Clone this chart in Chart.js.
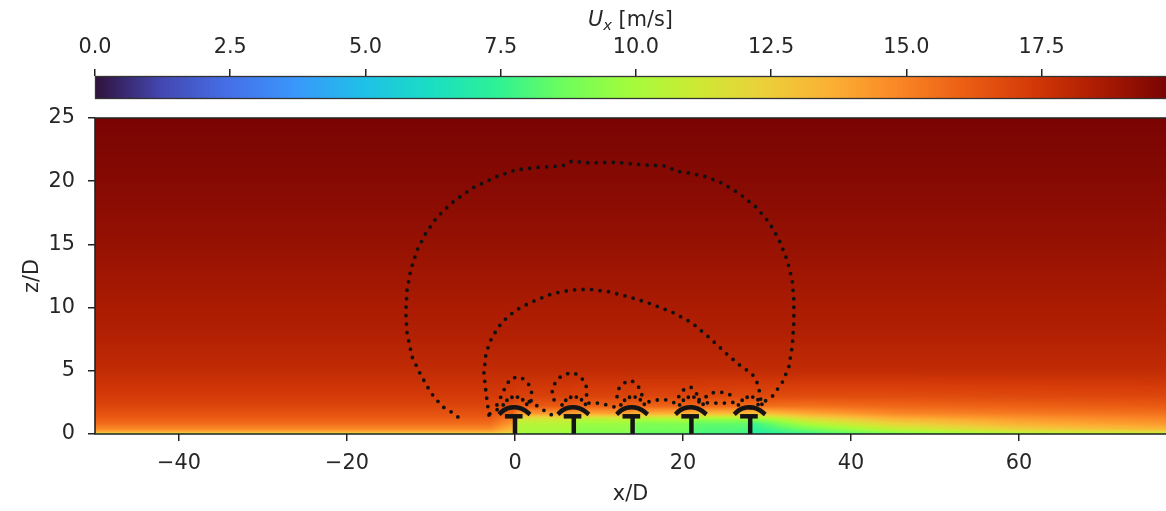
<!DOCTYPE html>
<html>
<head>
<meta charset="utf-8">
<script src="https://cdn.jsdelivr.net/npm/chart.js@4.4.1/dist/chart.umd.min.js"></script>
<style>
  html, body { margin: 0; padding: 0; background: #fff; }
  #wrap { position: relative; width: 1166px; height: 511px; }
  canvas { position: absolute; left: 0; top: 0; }
</style>
</head>
<body>
<div id="wrap">
  <canvas id="fieldChart" width="1166" height="511"></canvas>
  <canvas id="barChart" width="1166" height="100"></canvas>
</div>
<script>
// tick labels
const xTicks = [-40, -20, 0, 20, 40, 60];
const zTicks = [0, 5, 10, 15, 20, 25];
const cbTicks = [0, 2.5, 5, 7.5, 10, 12.5, 15, 17.5];
const uMax = 19.8;

// turbines (x/D) and the little glyph drawn at each one
const turbineX = [0, 7, 14, 21, 28];
const hubZ = 1.4;
const rotorDx = [-1.9, -1.3, -0.5, 0.3, 1.1, 1.8];
const rotorZ = [1.55, 1.9, 2.1, 2.1, 1.9, 1.55];
// dotted tuft just above each rotor
const tuftDx = [-1.4, -0.8, 0.0, 0.8, 1.4];
const tuftZ = [2.3, 2.8, 3.0, 2.8, 2.35];

// U_x field: columns at xStations, rows at zLevels
const zLevels = [0, 0.15, 0.4, 0.8, 1.2, 1.6, 2.2, 3, 5, 8, 12, 16, 20, 25];
const xStations = [-50, -3, -0.3, 0.5, 6.5, 7.5, 13.5, 14.5, 20.5, 21.5, 27.5, 28.5, 35, 45, 60, 77.5];
// z = 0 .. 3 (first 8 levels), one row per station
const nearGroundU = [
  [10.5, 13.6, 14.8, 15.6, 16.1, 16.5, 16.9, 17.3],
  [10.5, 13.6, 14.8, 15.6, 16.1, 16.5, 16.9, 17.3],
  [10.0, 12.5, 13.3, 14.2, 15.0, 15.8, 16.6, 17.2],
  [9.0, 10.0, 10.2, 10.4, 11.4, 14.2, 16.2, 17.1],
  [9.0, 9.8, 10.2, 10.4, 11.4, 14.2, 16.2, 17.1],
  [8.5, 9.2, 9.4, 9.6, 10.6, 13.7, 16.0, 17.0],
  [8.5, 9.2, 9.5, 9.7, 10.8, 13.9, 16.0, 17.0],
  [8.0, 8.6, 8.8, 9.0, 10.2, 13.4, 15.9, 16.9],
  [8.0, 8.6, 8.9, 9.1, 10.4, 13.5, 15.9, 16.9],
  [7.5, 8.0, 8.2, 8.4, 9.7, 13.1, 15.8, 16.9],
  [7.5, 7.9, 8.1, 8.4, 9.7, 13.1, 15.7, 16.8],
  [6.8, 7.2, 7.4, 7.7, 9.3, 12.8, 15.6, 16.8],
  [7.3, 8.1, 8.8, 10.2, 11.8, 13.8, 15.5, 16.7],
  [8.6, 9.6, 10.8, 12.2, 13.5, 14.8, 15.8, 16.7],
  [9.8, 10.9, 12.5, 13.6, 14.3, 15.2, 16.0, 16.8],
  [10.5, 11.8, 13.4, 14.3, 14.9, 15.5, 16.2, 16.9]
];
// z = 5 .. 25, same everywhere
const upperU = [17.9, 18.4, 18.8, 19.2, 19.5, 19.8];

// dotted curves, [x/D, z/D]
const outerLoop = [[-6.8,1.35],[-7.6,1.75],[-8.7,2.2],[-10.0,3.25],[-11.2,4.65],[-12.25,6.1],[-12.85,8.0],[-13.0,9.6],[-12.85,11.4],[-12.4,13.0],[-11.65,14.55],[-10.6,15.9],[-9.3,17.15],[-7.5,18.3],[-5.1,19.45],[-2.25,20.35],[0.1,20.9],[2.85,21.1],[5.6,21.2],[6.8,21.6],[8.8,21.45],[12.0,21.5],[15.1,21.3],[18.0,21.2],[19.2,20.8],[20.7,20.65],[22.75,20.35],[24.65,19.85],[26.65,19.05],[28.7,17.95],[30.25,16.75],[31.45,15.35],[32.4,13.75],[33.0,12.2],[33.2,10.6],[33.2,8.8],[33.0,6.9],[32.6,5.3],[31.8,4.05],[30.6,2.95],[29.4,2.45],[27.9,2.05]];
const innerLoop = [[-3.1,1.5],[-3.45,3.25],[-3.7,4.85],[-3.45,6.4],[-2.75,7.65],[-1.55,8.85],[0.1,9.8],[2.0,10.45],[4.4,11.1],[6.8,11.4],[8.8,11.45],[11.2,11.25],[13.55,10.85],[15.95,10.35],[18.7,9.65],[21.05,8.8],[23.1,7.65],[25.1,6.4],[27.0,5.3],[28.2,4.8],[28.8,4.1],[29.15,3.25],[29.3,2.5]];
const smallLoops = [
  [[-2.15,2.3],[-1.45,3.25],[-1.05,3.9],[-0.35,4.45],[0.7,4.5],[1.55,4.05],[2.0,3.25],[1.9,2.5]],
  [[4.65,2.7],[4.4,3.25],[4.65,3.9],[5.25,4.45],[6.05,4.75],[7.0,4.85],[7.85,4.5],[8.45,3.95],[8.55,3.25],[8.45,2.7]],
  [[12.15,2.95],[12.4,3.65],[13.0,4.05],[13.8,4.25],[14.5,3.95],[15.1,3.3],[15.1,2.75]],
  [[19.5,2.95],[19.75,3.3],[20.35,3.65],[20.95,3.7],[21.55,3.3],[21.8,2.85]],
  [[22.75,2.95],[23.35,3.25],[24.05,3.3],[24.9,3.3],[25.6,3.1],[25.85,2.7]]
];
const lowerWaves = [
  [[-3.0,1.6],[-2.3,1.9],[-1.6,2.0]],
  [[1.7,2.55],[2.85,2.15],[3.7,1.75],[4.4,1.5]],
  [[8.8,2.45],[10.0,2.45],[10.95,2.3],[11.8,2.15]],
  [[15.95,2.55],[17.0,2.7],[18.1,2.7],[19.05,2.45]],
  [[21.9,2.55],[23.1,2.45],[24.3,2.45],[25.5,2.45],[26.45,2.55]]
];

// turbo colour stops, evenly spaced over 0..uMax
const turboStops = [
  [48,18,59],[68,72,178],[70,112,232],[58,152,252],[32,192,232],[26,222,196],[46,242,150],[110,254,92],
  [164,252,60],[206,234,52],[236,208,58],[252,176,52],[250,135,38],[236,94,20],[212,58,8],[172,28,2],[122,4,3]
];

function turbo(u) {
  let t = Math.max(0, Math.min(1, u / uMax));
  const n = turboStops.length - 1;
  const i = Math.min(n - 1, Math.floor(t * n));
  const w = t * n - i;
  const a = turboStops[i], b = turboStops[i + 1];
  return [a[0] + (b[0] - a[0]) * w, a[1] + (b[1] - a[1]) * w, a[2] + (b[2] - a[2]) * w];
}

function bracket(arr, v) {
  let i = 0;
  while (i < arr.length - 2 && v > arr[i + 1]) i++;
  const t = Math.max(0, Math.min(1, (v - arr[i]) / (arr[i + 1] - arr[i])));
  return [i, t];
}

const FONT = 'DejaVu Sans';
const TXT = '#262626';
Chart.defaults.font.family = FONT;
Chart.defaults.font.size = 20.8;
Chart.defaults.color = TXT;

const fieldPlugin = {
  id: 'field',
  beforeDatasetsDraw(chart) {
    const {ctx, chartArea: a, scales: {x, y}} = chart;
    const w = Math.round(a.right - a.left), h = Math.round(a.bottom - a.top);
    const off = document.createElement('canvas');
    off.width = w; off.height = h;
    const octx = off.getContext('2d');
    const img = octx.createImageData(w, h);
    const cols = nearGroundU.map(c => c.concat(upperU));
    const rows = [];
    for (let py = 0; py < h; py++) rows.push(bracket(zLevels, y.getValueForPixel(a.top + py + 0.5)));
    for (let px = 0; px < w; px++) {
      const [i, tx] = bracket(xStations, x.getValueForPixel(a.left + px + 0.5));
      const c0 = cols[i], c1 = cols[i + 1];
      for (let py = 0; py < h; py++) {
        const [j, tz] = rows[py];
        const u0 = c0[j] + (c0[j + 1] - c0[j]) * tz;
        const u1 = c1[j] + (c1[j + 1] - c1[j]) * tz;
        const rgb = turbo(u0 + (u1 - u0) * tx);
        const k = (py * w + px) * 4;
        img.data[k] = rgb[0]; img.data[k + 1] = rgb[1]; img.data[k + 2] = rgb[2]; img.data[k + 3] = 255;
      }
    }
    octx.putImageData(img, 0, 0);
    ctx.drawImage(off, a.left, a.top);
  },
  afterDraw(chart) {
    const {ctx, chartArea: a} = chart;
    ctx.save();
    ctx.strokeStyle = '#222';
    ctx.lineWidth = 1.6;
    ctx.beginPath();
    ctx.moveTo(a.right + 2, a.top);
    ctx.lineTo(a.left, a.top);
    ctx.lineTo(a.left, a.bottom);
    ctx.lineTo(a.right + 2, a.bottom);
    ctx.stroke();
    ctx.restore();
  }
};

function pts(list) { return list.map(p => ({x: p[0], y: p[1]})); }
function dotted(list) {
  return {data: pts(list), showLine: true, pointRadius: 0, borderColor: '#111', borderWidth: 3.8,
          borderDash: [0, 8.5], borderCapStyle: 'round', fill: false};
}
function solid(list, width) {
  return {data: pts(list), showLine: true, pointRadius: 0, borderColor: '#141414', borderWidth: width,
          borderCapStyle: 'butt', fill: false};
}

const datasets = [];
datasets.push(dotted(outerLoop));
datasets.push(dotted(innerLoop));
smallLoops.forEach(l => datasets.push(dotted(l)));
lowerWaves.forEach(l => datasets.push(dotted(l)));
turbineX.forEach(xt => {
  datasets.push(Object.assign(dotted(tuftDx.map((d, k) => [xt + d, tuftZ[k]])), {borderDash: [0, 6]}));
  datasets.push(solid([[xt, 0], [xt, hubZ]], 4.5));
  datasets.push(solid([[xt - 1.2, hubZ], [xt + 0.9, hubZ]], 4.5));
  datasets.push(Object.assign(solid(rotorDx.map((d, k) => [xt + d, rotorZ[k]]), 4.5), {tension: 0.4}));
});

const fmt = v => v < 0 ? '\u2212' + Math.abs(v) : String(v);

new Chart(document.getElementById('fieldChart'), {
  type: 'scatter',
  data: {datasets},
  plugins: [fieldPlugin],
  options: {
    responsive: false,
    animation: false,
    devicePixelRatio: 1,
    layout: {padding: {top: 118, left: 0, right: 0, bottom: 0}},
    plugins: {legend: {display: false}, tooltip: {enabled: false}},
    scales: {
      x: {
        type: 'linear', min: -50, max: 77.5,
        afterBuildTicks: s => { s.ticks = xTicks.map(v => ({value: v})); },
        afterFit: s => { s.height = 77; },
        ticks: {callback: fmt, padding: 10, color: TXT},
        grid: {drawOnChartArea: false, drawTicks: true, tickLength: 7, color: '#222', lineWidth: 1.5},
        border: {display: false},
        title: {display: true, text: 'x/D', color: TXT, padding: {top: 0, bottom: 4}}
      },
      y: {
        type: 'linear', min: 0, max: 25,
        afterBuildTicks: s => { s.ticks = zTicks.map(v => ({value: v})); },
        afterFit: s => { s.width = 95; },
        ticks: {padding: 13, color: TXT},
        grid: {drawOnChartArea: false, drawTicks: true, tickLength: 7, color: '#222', lineWidth: 1.5},
        border: {display: false},
        title: {display: true, text: 'z/D', color: TXT, padding: {top: 20, bottom: 0}}
      }
    }
  }
});

const barPlugin = {
  id: 'colorbar',
  beforeDatasetsDraw(chart) {
    const {ctx, chartArea: a, scales: {x}} = chart;
    ctx.save();
    for (let px = Math.floor(a.left); px < a.right; px++) {
      const rgb = turbo(x.getValueForPixel(px + 0.5));
      ctx.fillStyle = `rgb(${rgb[0] | 0},${rgb[1] | 0},${rgb[2] | 0})`;
      ctx.fillRect(px, a.top, 1, a.bottom - a.top);
    }
    ctx.strokeStyle = '#333';
    ctx.lineWidth = 1.3;
    ctx.strokeRect(a.left + 0.5, a.top + 0.5, a.right - a.left + 2, a.bottom - a.top - 1);
    // colourbar label: italic U with subscript x, then unit
    const big = `italic 20.8px "${FONT}"`, sub = `italic 14.6px "${FONT}"`, reg = `20.8px "${FONT}"`;
    const unit = ' [m/s]';
    ctx.font = big; const wU = ctx.measureText('U').width;
    ctx.font = sub; const wx = ctx.measureText('x').width;
    ctx.font = reg; const wu = ctx.measureText(unit).width;
    let cx = (a.left + a.right) / 2 - (wU + wx + wu) / 2;
    const base = 26;
    ctx.fillStyle = TXT;
    ctx.textBaseline = 'alphabetic';
    ctx.textAlign = 'left';
    ctx.font = big; ctx.fillText('U', cx, base); cx += wU;
    ctx.font = sub; ctx.fillText('x', cx, base + 4); cx += wx;
    ctx.font = reg; ctx.fillText(unit, cx, base);
    ctx.restore();
  }
};

new Chart(document.getElementById('barChart'), {
  type: 'scatter',
  data: {datasets: []},
  plugins: [barPlugin],
  options: {
    responsive: false,
    animation: false,
    devicePixelRatio: 1,
    layout: {padding: {top: 0, left: 95, right: 0, bottom: 1}},
    plugins: {legend: {display: false}, tooltip: {enabled: false}},
    scales: {
      x: {
        type: 'linear', position: 'top', min: 0, max: uMax,
        afterBuildTicks: s => { s.ticks = cbTicks.map(v => ({value: v})); },
        afterFit: s => { s.height = 76; },
        ticks: {callback: v => v.toFixed(1), padding: 8.5, color: TXT},
        grid: {drawOnChartArea: false, drawTicks: true, tickLength: 7, color: '#222', lineWidth: 1.5},
        border: {display: false}
      },
      y: {display: false, min: 0, max: 1}
    }
  }
});
</script>
</body>
</html>
